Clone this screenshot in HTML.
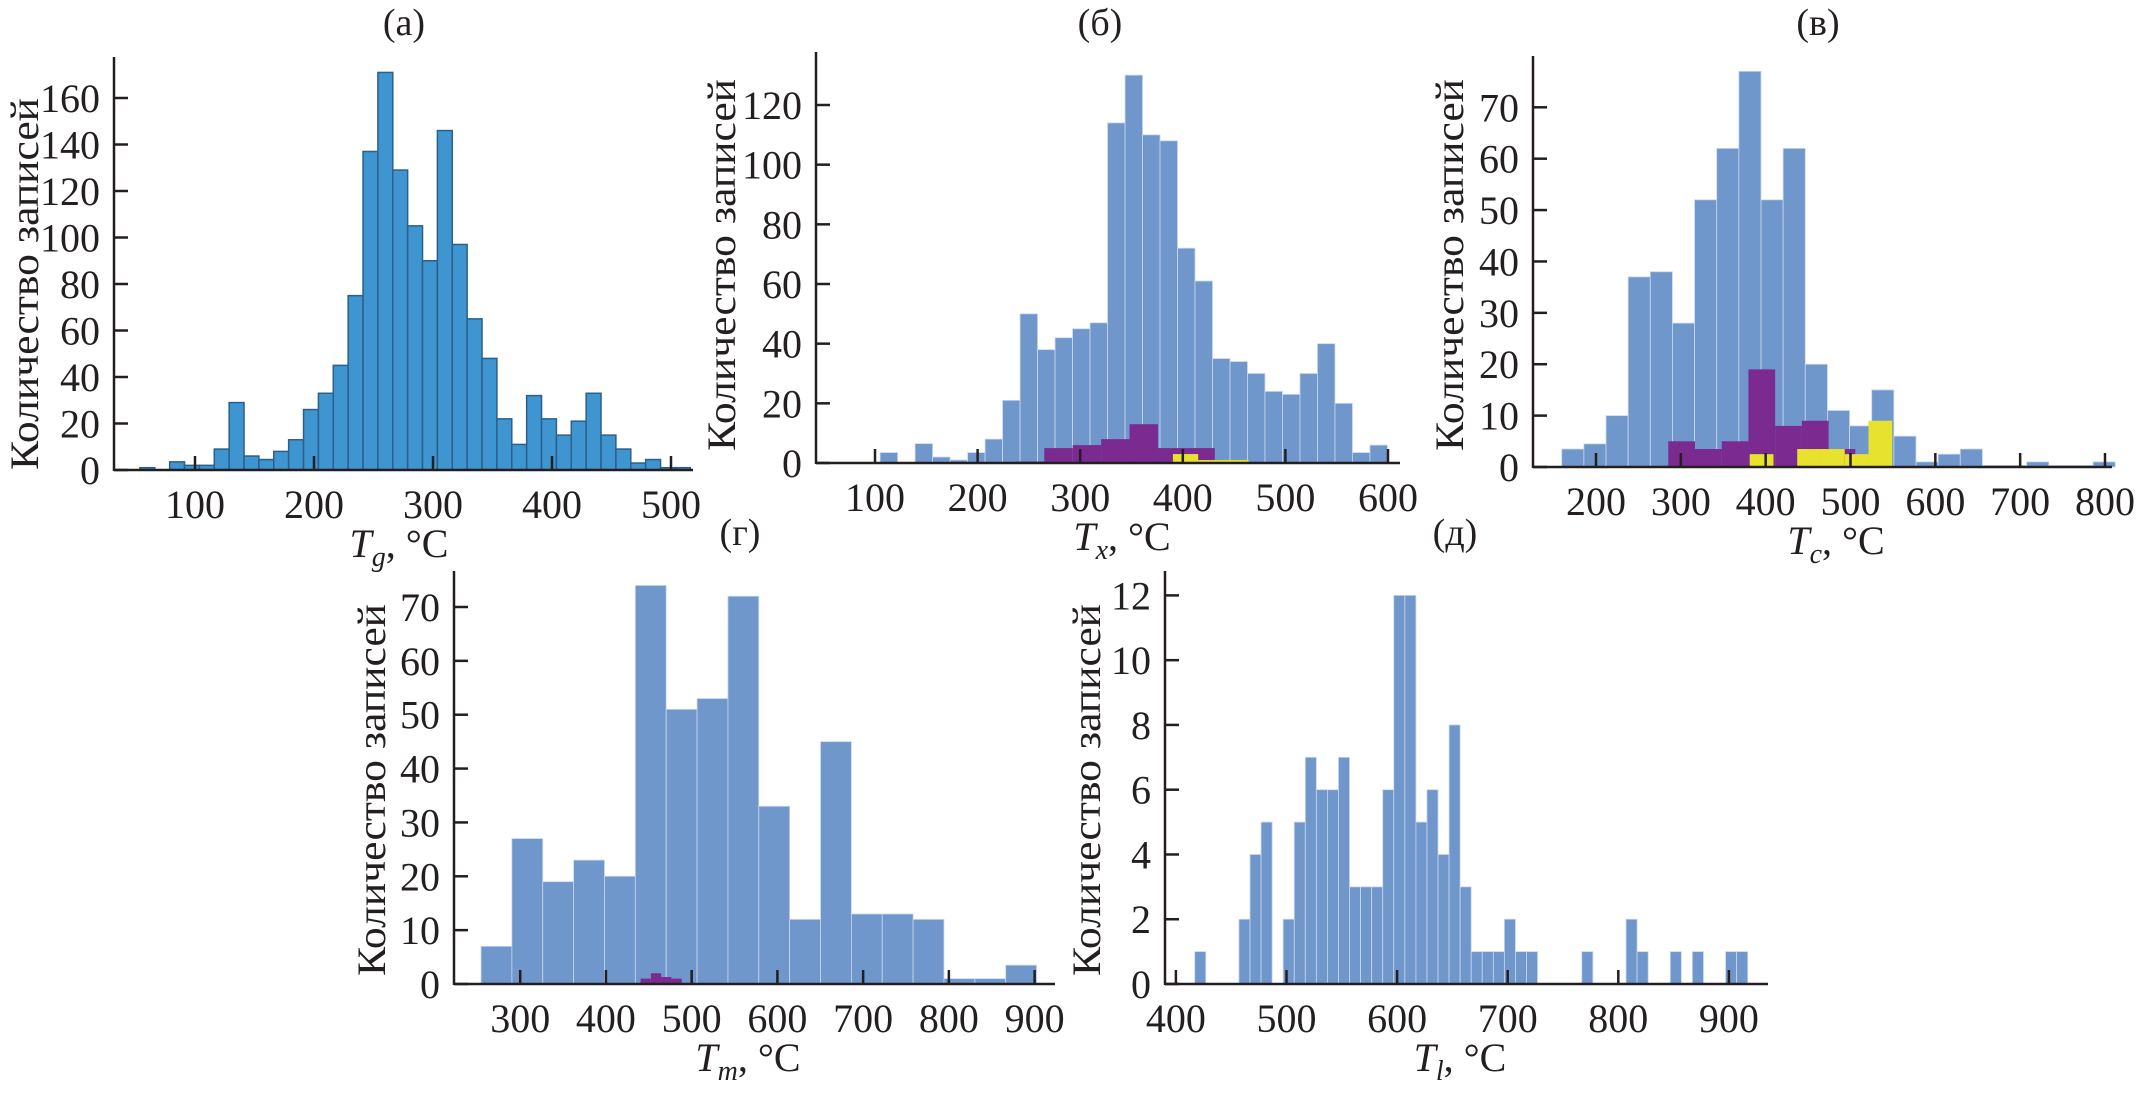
<!DOCTYPE html>
<html><head><meta charset="utf-8">
<style>
html,body{margin:0;padding:0;background:#fff;}
svg{display:block;}
text{font-family:"Liberation Serif",serif;fill:#231f20;}
</style></head>
<body>
<svg id="fig" width="2137" height="1100" viewBox="0 0 2137 1100" xmlns="http://www.w3.org/2000/svg"></svg>
<script>
// ---- Panel (a) Tg ----
const tgStart = 53.7;
const tgWidth = 12.5;
const tgCounts = [1,0,3.5,2,2,9,29,6,4.5,8,13,26,33,45,75,137,171,129,105,90,146,97,65,48,22,11,32,22,15,21,33,15,9,3,4.5,1,1];
const tgYTicks = [0,20,40,60,80,100,120,140,160];
const tgXTicks = [100,200,300,400,500];

// ---- Panel (б) Tx ----
const txStart = 105;
const txWidth = 17.05;
const txCounts = [3.5,0,6.5,2,1,3.5,8,21,50,38,42,45,47,114,130,110,108,72,61,35,34,30,24,23,30,40,20,3.5,6];
const txPurpleStart = 237.3;
const txPurpleWidth = 27.7;
const txPurpleCounts = [0.5,5,6,8,13,5,5,0.5];
const txYellowStart = 390.4;
const txYellowWidth = 24.6;
const txYellowCounts = [3,1,1];
const txYTicks = [0,20,40,60,80,100,120];
const txXTicks = [100,200,300,400,500,600];

// ---- Panel (в) Tc ----
const tcStart = 159.6;
const tcWidth = 26.1;
const tcCounts = [3.5,4.5,10,37,38,28,52,62,77,52,62,20,11,8,15,6,1,2.5,3.5,0.3,0.3,1,0.3,0.3,1];
const tcPurpleStart = 285.2;
const tcPurpleWidth = 31.5;
const tcPurpleCounts = [5,3.5,5,19,8,9,3.5];
const tcYellowStart = 381.2;
const tcYellowWidth = 28;
const tcYellowCounts = [2.5,0,3.5,3.5,2.5,9];
const tcYTicks = [0,10,20,30,40,50,60,70];
const tcXTicks = [200,300,400,500,600,700,800];

// ---- Panel (г) Tm ----
const tmStart = 254.3;
const tmWidth = 36;
const tmCounts = [7,27,19,23,20,74,51,53,72,33,12,45,13,13,12,1,1,3.5];
const tmPurpleStart = 440.4;
const tmPurpleWidth = 12;
const tmPurpleCounts = [1,2,1.3,1];
const tmYTicks = [0,10,20,30,40,50,60,70];
const tmXTicks = [300,400,500,600,700,800,900];

// ---- Panel (д) Tl ----
const tlStart = 417;
const tlWidth = 10;
const tlCounts = [1,0,0,0,2,4,5,0,2,5,7,6,6,7,3,3,3,6,12,12,5,6,4,8,3,1,1,1,2,1,1,0,0,0,0,1,0,0,0,2,1,0,0,1,0,1,0,0,1,1];
const tlYTicks = [0,2,4,6,8,10,12];
const tlXTicks = [400,500,600,700,800,900];

const NS = "http://www.w3.org/2000/svg";
const svg = document.getElementById('fig');
function mk(tag, attrs, parent){
  const e = document.createElementNS(NS, tag);
  for (const k in attrs) e.setAttribute(k, attrs[k]);
  (parent||svg).appendChild(e);
  return e;
}

function drawPanel(p){
  const g = mk('g', {});
  
  
  const xS = v => p.x0px + (v - p.x0val) * p.pxPerX;
  const yS = v => p.base - v * p.pxPerY;

  function bars(start, width, counts, fill, stroke, sw, nm){
    counts.forEach((c, i) => {
      if (c <= 0) return;
      const xa = xS(start + i*width), xb = xS(start + (i+1)*width);
      const r = mk('rect', {x: xa, y: yS(c), width: xb - xa, height: yS(0) - yS(c), fill: fill, stroke: stroke, 'stroke-width': sw}, g);
      
      
    });
  }
  bars(p.start, p.width, p.counts, p.fill, p.stroke, p.sw, 'bar');
  if (p.purple) bars(p.purple[0], p.purple[1], p.purple[2], '#7b2a8f', 'none', 0, 'bar-subset-purple');
  if (p.yellow) bars(p.yellow[0], p.yellow[1], p.yellow[2], '#e6e22e', 'none', 0, 'bar-subset-yellow');

  const ya = mk('line', {x1: p.axisX, y1: p.axisTop, x2: p.axisX, y2: p.base + 1, stroke: '#231f20', 'stroke-width': 2.5}, g);
  
  
  const xa = mk('line', {x1: p.axisX, y1: p.base, x2: p.axisRight, y2: p.base, stroke: '#231f20', 'stroke-width': 2.5}, g);
  
  

  p.yTicks.forEach(v => {
    const y = yS(v);
    const t = mk('line', {x1: p.axisX, y1: y, x2: p.axisX + 14, y2: y, stroke: '#231f20', 'stroke-width': 2.5}, g);
    
    
    const l = mk('text', {x: p.axisX - 14, y: y + 14, 'font-size': 40, 'text-anchor': 'end'}, g);
    
    
    l.textContent = v;
  });
  p.xTicks.forEach(v => {
    const x = xS(v);
    const t = mk('line', {x1: x, y1: p.base, x2: x, y2: p.base - 14, stroke: '#231f20', 'stroke-width': 2.5}, g);
    
    
    const l = mk('text', {x: x, y: p.base + 48, 'font-size': 40, 'text-anchor': 'middle'}, g);
    
    
    l.textContent = v;
  });

  const yt = mk('text', {x: 0, y: 0, 'font-size': 40, 'text-anchor': 'middle', textLength: 372, lengthAdjust: 'spacingAndGlyphs', transform: 'translate(' + (p.ytX + 13) + ',' + p.ytY + ') rotate(-90)'}, g);
  
  
  yt.textContent = 'Количество записей';

  const xt = mk('text', {x: p.xtX, y: p.base + 87, 'font-size': 40, 'text-anchor': 'middle'}, g);
  
  
  xt.innerHTML = '<tspan font-style="italic">T</tspan><tspan font-style="italic" font-size="28" dy="9">' + p.sub + '</tspan><tspan dy="-9">, °C</tspan>';

  const pt = mk('text', {x: p.tX, y: p.tY, 'font-size': 38, 'text-anchor': 'middle'}, g);
  
  
  pt.textContent = p.title;
}

const BLUE = '#7097cc', EDGE = '#c9d7ec';
drawPanel({name:'panel-a-tg', start:tgStart, width:tgWidth, counts:tgCounts, fill:'#3e95d0', stroke:'#2c5f8c', sw:1.5,
  yTicks:tgYTicks, xTicks:tgXTicks, axisX:114, axisTop:57, axisRight:693, base:470, pxPerY:(470-98)/160,
  x0val:100, x0px:195, pxPerX:476/400, ytX:25, ytY:284, xtX:399, sub:'g', title:'(а)', tX:404, tY:35});
drawPanel({name:'panel-b-tx', start:txStart, width:txWidth, counts:txCounts, fill:BLUE, stroke:EDGE, sw:0.8,
  purple:[txPurpleStart, txPurpleWidth, txPurpleCounts], yellow:[txYellowStart, txYellowWidth, txYellowCounts],
  yTicks:txYTicks, xTicks:txXTicks, axisX:816, axisTop:52, axisRight:1400, base:463, pxPerY:(463-105)/120,
  x0val:100, x0px:875, pxPerX:513/500, ytX:722, ytY:265, xtX:1122, sub:'x', title:'(б)', tX:1100, tY:35});
drawPanel({name:'panel-v-tc', start:tcStart, width:tcWidth, counts:tcCounts, fill:BLUE, stroke:EDGE, sw:0.8,
  purple:[tcPurpleStart, tcPurpleWidth, tcPurpleCounts], yellow:[tcYellowStart, tcYellowWidth, tcYellowCounts],
  yTicks:tcYTicks, xTicks:tcXTicks, axisX:1533, axisTop:56, axisRight:2112, base:467, pxPerY:(467-107.3)/70,
  x0val:200, x0px:1596, pxPerX:509/600, ytX:1450, ytY:265, xtX:1836, sub:'c', title:'(в)', tX:1818, tY:35});
drawPanel({name:'panel-g-tm', start:tmStart, width:tmWidth, counts:tmCounts, fill:BLUE, stroke:EDGE, sw:0.8,
  purple:[tmPurpleStart, tmPurpleWidth, tmPurpleCounts],
  yTicks:tmYTicks, xTicks:tmXTicks, axisX:454, axisTop:571, axisRight:1055, base:984, pxPerY:(984-607)/70,
  x0val:300, x0px:520.2, pxPerX:514.4/600, ytX:372, ytY:790, xtX:748, sub:'m', title:'(г)', tX:740, tY:545});
drawPanel({name:'panel-d-tl', start:tlStart, width:tlWidth, counts:tlCounts, fill:BLUE, stroke:EDGE, sw:0.8,
  yTicks:tlYTicks, xTicks:tlXTicks, axisX:1165, axisTop:571, axisRight:1768, base:984, pxPerY:(984-595.4)/12,
  x0val:400, x0px:1175.9, pxPerX:553/500, ytX:1087, ytY:790, xtX:1460, sub:'l', title:'(д)', tX:1455, tY:545});
</script>
</body></html>
